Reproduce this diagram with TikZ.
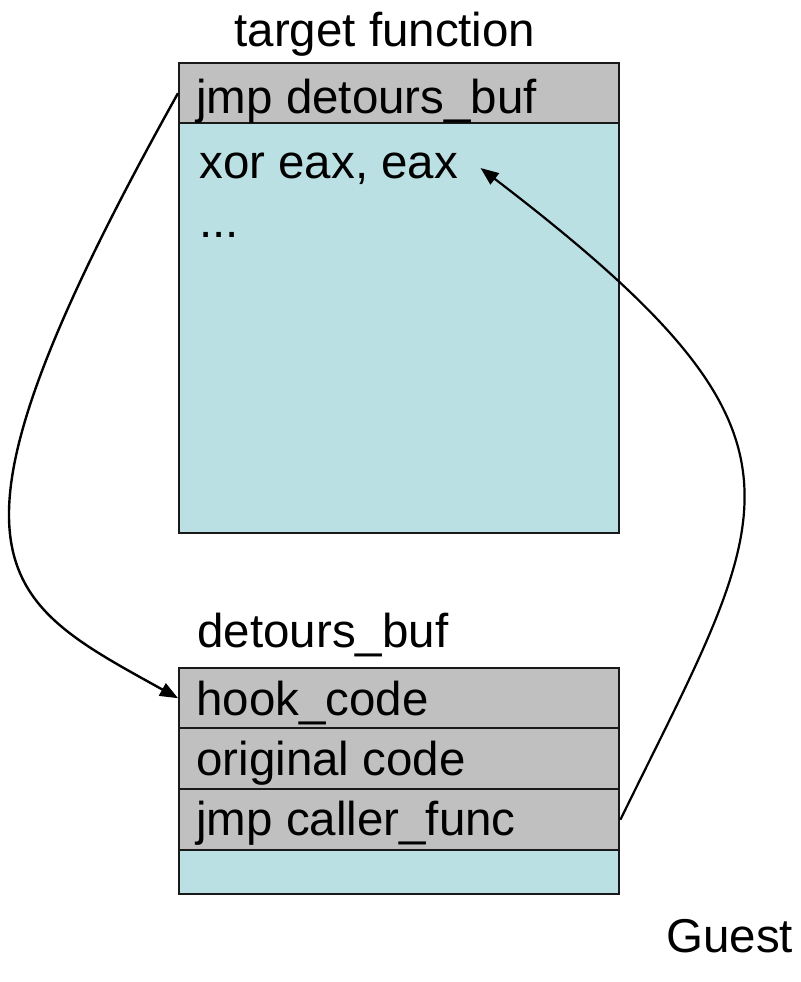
\documentclass[tikz,border=0pt]{standalone}
\usepackage{fontspec}
\setmainfont{Liberation Sans}
\usetikzlibrary{arrows.meta}
\definecolor{codebg}{HTML}{BBE0E3}
\definecolor{rowgray}{HTML}{C0C0C0}
\begin{document}
\begin{tikzpicture}[x=0.5pt,y=-0.5pt,
  frame/.style={draw=black!90, line width=1.2pt, rectangle, inner sep=0pt,
                minimum width=220pt, anchor=north west},
  grayrow/.style={frame, fill=rowgray},
  txt/.style={anchor=base west, inner sep=0pt, font=\fontsize{23.75}{28}\selectfont},
  link/.style={line width=1.1pt, -{Triangle[length=9pt,width=7pt]}}]
\useasboundingbox (0,0) rectangle (800,982);

% target function: code area with the patched first instruction
\node[frame, fill=codebg, minimum height=235pt] (target) at (178,62) {};
\node[grayrow, minimum height=30pt] (jmprow) at (178,62) {};

% detours buffer
\node[grayrow, minimum height=30pt] (hook) at (178,667) {};
\node[grayrow, minimum height=30.5pt] (orig) at (178,727) {};
\node[grayrow, minimum height=30.5pt] (jmpc) at (178,788) {};
\node[frame, fill=codebg, minimum height=22pt] (rest) at (178,849) {};

% labels
\node[txt] (title) at (234,46) {target function};
\node[txt] (t1) at (196,113) {jmp detours\_buf};
\node[txt] (xor) at (199,178) {xor eax, eax};
\node[txt] (dots) at (199,237) {...};
\node[txt] (buftitle) at (197,647) {detours\_buf};
\node[txt] (t2) at (196,715) {hook\_code};
\node[txt] (t3) at (196,775) {original code};
\node[txt] (t4) at (196,835) {jmp caller\_func};
\node[txt] (guest) at (666,952) {Guest};

% control flow
\coordinate (xortip) at ([xshift=11pt,yshift=5pt]xor.base east);
\draw[link, line width=1.2pt] (jmprow.west) .. controls +(-263,471) and +(-180,-100) .. (hook.west);
\draw[link] (jmpc.east) .. controls +(154,-315) and +(357,273) .. (xortip);
\end{tikzpicture}
\end{document}
